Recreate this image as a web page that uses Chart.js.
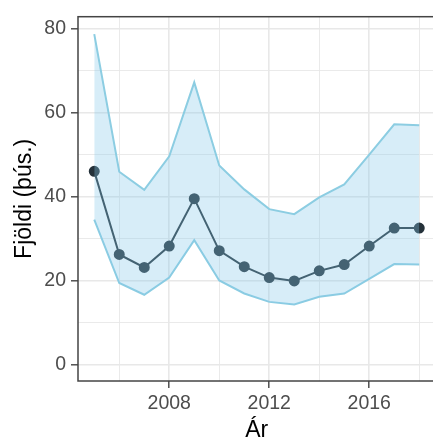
<!DOCTYPE html>
<html>
<head>
<meta charset="utf-8">
<script src="https://cdn.jsdelivr.net/npm/chart.js@4"></script>
<style>
  html, body { margin: 0; padding: 0; overflow: hidden; background: #fff; }
</style>
</head>
<body>
<canvas id="chart" width="442" height="442"></canvas>
<script>
const years     = [2005, 2006, 2007, 2008, 2009, 2010, 2011, 2012, 2013, 2014, 2015, 2016, 2017, 2018];
const estimate  = [46.0, 26.2, 23.1, 28.2, 39.5, 27.1, 23.3, 20.7, 19.9, 22.3, 23.8, 28.2, 32.5, 32.5];
const upperBand = [78.7, 45.9, 41.6, 49.6, 67.2, 47.4, 41.7, 37.0, 35.8, 39.8, 42.9, 50.0, 57.2, 57.0];
const lowerBand = [34.5, 19.4, 16.6, 20.7, 29.6, 20.0, 16.9, 14.9, 14.3, 16.1, 16.9, 20.4, 23.9, 23.8];
const xTicks    = [2006, 2008, 2010, 2012, 2014, 2016, 2018];
const xLabels   = [2008, 2012, 2016];
const yTicks    = [0, 10, 20, 30, 40, 50, 60, 70, 80];
const yLabels   = [0, 20, 40, 60, 80];

const toPoints = vals => years.map((yr, i) => ({ x: yr, y: vals[i] }));

const bandLine = '#8ccde2';
const darkLine = '#25323a';
const gridCol  = '#e8e8e8';
const axisCol  = '#4d4d4d';

const panelBorder = {
  id: 'panelBorder',
  afterDraw(chart) {
    const { ctx, chartArea: a } = chart;
    ctx.save();
    ctx.strokeStyle = '#444';
    ctx.lineWidth = 1.5;
    ctx.strokeRect(a.left, a.top, a.right - a.left, a.bottom - a.top);
    ctx.restore();
  }
};

function gridFor(labels) {
  return {
    color: gridCol,
    lineWidth: c => labels.includes(c.tick.value) ? 1.6 : 0.9,
    tickColor: c => labels.includes(c.tick.value) ? '#444' : 'rgba(0,0,0,0)',
    tickWidth: 1.4,
    tickLength: 7,
    drawTicks: true
  };
}

new Chart(document.getElementById('chart'), {
  type: 'line',
  data: {
    datasets: [
      {
        label: 'upper',
        data: toPoints(upperBand),
        borderColor: bandLine,
        borderWidth: 2,
        backgroundColor: 'rgba(135,200,235,0.33)',
        pointRadius: 0,
        fill: '+1',
        tension: 0
      },
      {
        label: 'lower',
        data: toPoints(lowerBand),
        borderColor: bandLine,
        borderWidth: 2,
        pointRadius: 0,
        fill: false,
        tension: 0
      },
      {
        label: 'estimate',
        data: toPoints(estimate),
        borderColor: darkLine,
        borderWidth: 2,
        backgroundColor: darkLine,
        pointBackgroundColor: darkLine,
        pointBorderColor: darkLine,
        pointRadius: 4.5,
        fill: false,
        tension: 0
      }
    ]
  },
  options: {
    responsive: false,
    animation: false,
    devicePixelRatio: 1,
    layout: { padding: { top: 13, right: 0, left: 0, bottom: 0 } },
    plugins: { legend: { display: false }, tooltip: { enabled: false } },
    scales: {
      x: {
        type: 'linear',
        min: 2004.35,
        max: 2018.65,
        afterBuildTicks: s => { s.ticks = xTicks.map(v => ({ value: v })); },
        afterFit: s => { s.height = 61; },
        grid: gridFor(xLabels),
        border: { display: false },
        ticks: {
          autoSkip: false,
          maxRotation: 0,
          padding: 4,
          color: axisCol,
          font: { family: 'Liberation Sans', size: 19.5 },
          callback: v => xLabels.includes(v) ? String(v) : ''
        },
        title: {
          display: true,
          text: 'Ár',
          color: '#000',
          font: { family: 'Liberation Sans', size: 23 },
          padding: { top: 0, bottom: -2 }
        }
      },
      y: {
        min: -3.95,
        max: 82.85,
        afterBuildTicks: s => { s.ticks = yTicks.map(v => ({ value: v })); },
        afterFit: s => { s.width = 78; },
        grid: gridFor(yLabels),
        border: { display: false },
        ticks: {
          autoSkip: false,
          padding: 5,
          color: axisCol,
          font: { family: 'Liberation Sans', size: 19.5 },
          callback: v => yLabels.includes(v) ? String(v) : ''
        },
        title: {
          display: true,
          text: 'Fjöldi (þús.)',
          color: '#000',
          font: { family: 'Liberation Sans', size: 23 },
          padding: { top: 11, bottom: 0 }
        }
      }
    }
  },
  plugins: [panelBorder]
});
</script>
</body>
</html>
